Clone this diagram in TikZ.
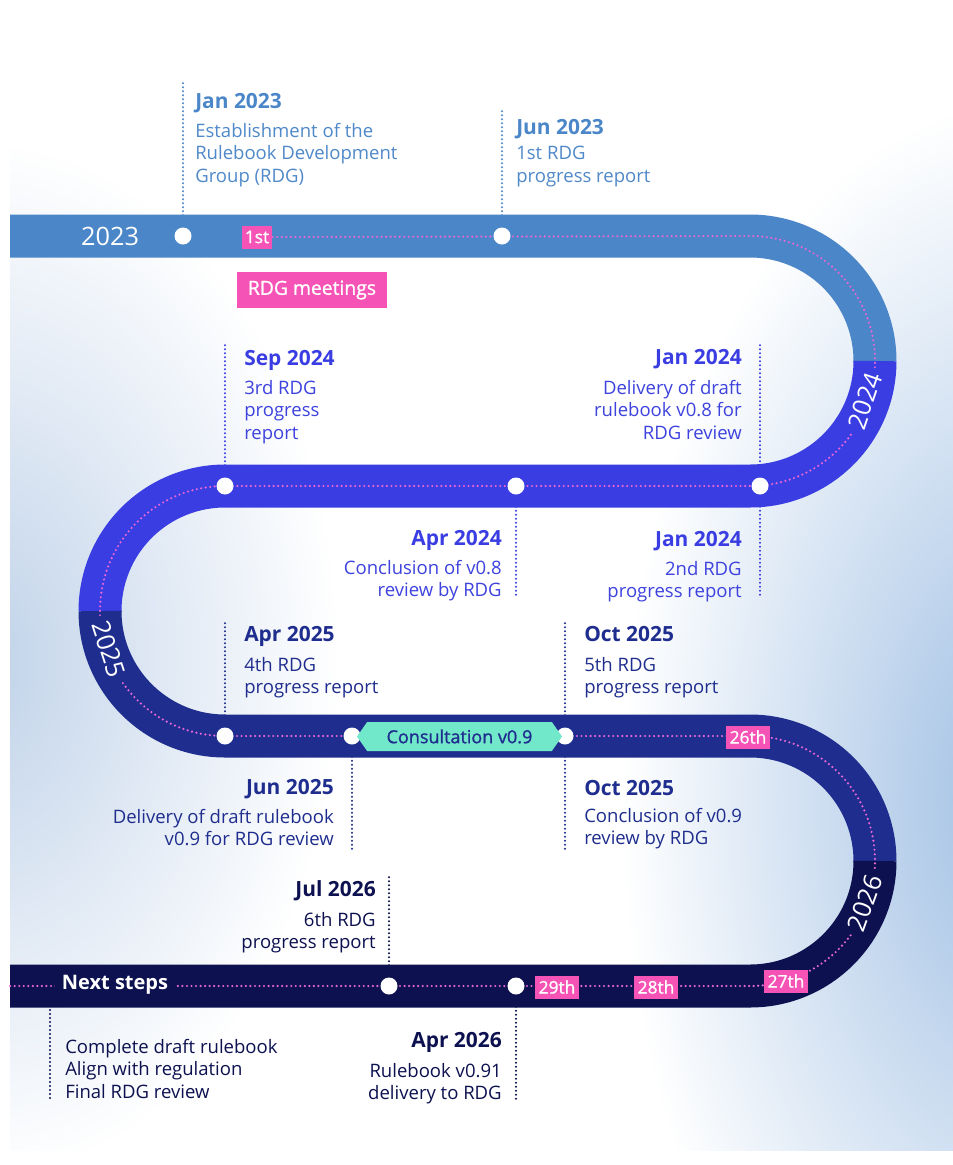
\documentclass[tikz,border=0pt]{standalone}
\usepackage{fontspec}
\setmainfont{Open Sans}
\newfontfamily\sbfont{Open Sans}[FakeBold=1.2]
\usetikzlibrary{shapes.symbols}
\definecolor{cA}{HTML}{4A86C8}
\definecolor{cAt}{HTML}{5089C9}
\definecolor{cB}{HTML}{3A3EE2}
\definecolor{cBt}{HTML}{3E43DE}
\definecolor{cC}{HTML}{1F2E8E}
\definecolor{cD}{HTML}{0D1150}
\definecolor{pinkbox}{HTML}{F553B5}
\definecolor{pinkdot}{HTML}{E866D6}
\definecolor{mint}{HTML}{72E8CA}
\definecolor{bgL}{HTML}{C0D2E9}
\definecolor{bgR}{HTML}{9EBEE3}
\pgfdeclarelayer{bg}\pgfdeclarelayer{vl}\pgfdeclarelayer{bands}
\pgfsetlayers{bg,vl,bands,main}
\tikzset{
  hd/.style={font=\fontsize{15.7}{18}\selectfont\bfseries, inner sep=0pt},
  bd/.style={font=\fontsize{13.9}{16.9}\selectfont, inner sep=0pt},
  band/.style={line width=32.25pt, line cap=butt},
  pinkline/.style={draw=pinkdot, line width=1.8pt, line cap=round, dash pattern=on 0pt off 3.4pt},
  vline/.style={line width=1.7pt, line cap=round, dash pattern=on 0pt off 3pt},
  dot/.style={circle, fill=white, minimum size=12.75pt, inner sep=0pt},
  pbox/.style={fill=pinkbox, text=white, font=\fontsize{13}{14}\sbfont, inner xsep=2.5pt, inner ysep=0pt, minimum height=17.25pt},
  yr/.style={text=white, font=\fontsize{19}{22}\selectfont, inner xsep=4pt, inner ysep=1pt},
  hexa/.style={signal, signal to=east and west, signal pointer angle=110, fill=mint, text=cC,
    font=\fontsize{13.5}{15}\sbfont, minimum height=21.75pt, minimum width=153.75pt, inner sep=0pt},
}
\begin{document}
\begin{tikzpicture}[x=0.75pt, y=-0.75pt]
\useasboundingbox (0,0) rectangle (953,1165);
% ---------- background ----------
\begin{pgfonlayer}{bg}
\fill[white] (0,0) rectangle (953,1165);
\begin{scope}
\clip (10,15) rectangle (953,1150);
\shade[inner color=bgL, outer color=white] (-20,660) ellipse (360 and 520);
\shade[inner color=bgR, outer color=white] (1020,800) ellipse (400 and 700);
\end{scope}
\end{pgfonlayer}

% ---------- dots ----------
\node[dot] (d1) at (183,236) {};
\node[dot] (d2) at (502,236) {};
\node[dot] (d3) at (760,486) {};
\node[dot] (d4) at (516,486) {};
\node[dot] (d5) at (225,486) {};
\node[dot] (d6) at (225,736) {};
\node[dot] (d7) at (352,736) {};
\node[dot] (d8) at (565,736) {};
\node[dot] (d9) at (389,986) {};
\node[dot] (d10) at (516,986) {};

% ---------- labels on the track ----------
\node[yr, inner sep=0pt] (y23) at (110,236) {2023};
\node[yr, fill=cB, rotate=71] (y24) at (865,401) {2024};
\node[yr, fill=cC, rotate=-72] (y25) at (109,649) {2025};
\node[yr, fill=cD, rotate=70] (y26) at (865,903) {2026};

\node[pbox] (one) at (257,237) {1st};
\node[pbox, minimum height=27pt, inner xsep=8pt, font=\fontsize{14.5}{16}\sbfont] (meet) at (312,290) {RDG meetings};
\node[pbox] (n26) at (748,737) {26th};
\node[pbox] (n27) at (786,981) {27th};
\node[pbox] (n28) at (656,987) {28th};
\node[pbox] (n29) at (557,987) {29th};
\node[hexa] (cons) at (459.5,736.5) {Consultation v0.9};
\node[fill=cD, text=white, font=\fontsize{15}{17}\selectfont\bfseries, inner xsep=5pt, inner ysep=4pt] (next) at (115,985) {Next steps};

% ---------- 2023 texts ----------
\node[hd, text=cA, anchor=base west] (h1) at (195,108.5) {Jan 2023};
\node[bd, text=cAt, anchor=north west, align=left] (b1) at (195,123) {Establishment of the\\Rulebook Development\\Group (RDG)};
\node[hd, text=cA, anchor=base west] (h2) at (516,134.5) {Jun 2023};
\node[bd, text=cAt, anchor=north west, align=left] (b2) at (516,146) {1st RDG\\progress report};
% ---------- 2024 texts ----------
\node[hd, text=cB, anchor=base west] (h3) at (244,365) {Sep 2024};
\node[bd, text=cBt, anchor=north west, align=left] (b3) at (244,380) {3rd RDG\\progress\\report};
\node[hd, text=cB, anchor=base east] (h4) at (742,364.5) {Jan 2024};
\node[bd, text=cBt, anchor=north east, align=right] (b4) at (742,380) {Delivery of draft\\rulebook v0.8 for\\RDG review};
\node[hd, text=cB, anchor=base east] (h5) at (502,545.5) {Apr 2024};
\node[bd, text=cBt, anchor=north east, align=right] (b5) at (502,560) {Conclusion of v0.8\\review by RDG};
\node[hd, text=cB, anchor=base east] (h6) at (742,546.5) {Jan 2024};
\node[bd, text=cBt, anchor=north east, align=right] (b6) at (742,561) {2nd RDG\\progress report};
% ---------- 2025 texts ----------
\node[hd, text=cC, anchor=base west] (h7) at (244,641.5) {Apr 2025};
\node[bd, text=cC, anchor=north west, align=left] (b7) at (244,657) {4th RDG\\progress report};
\node[hd, text=cC, anchor=base west] (h8) at (584,641.5) {Oct 2025};
\node[bd, text=cC, anchor=north west, align=left] (b8) at (584,657) {5th RDG\\progress report};
\node[hd, text=cC, anchor=base east] (h9) at (334,794.5) {Jun 2025};
\node[bd, text=cC, anchor=north east, align=right] (b9) at (334,809) {Delivery of draft rulebook\\v0.9 for RDG review};
\node[hd, text=cC, anchor=base west] (h10) at (584,795.5) {Oct 2025};
\node[bd, text=cC, anchor=north west, align=left] (b10) at (584,808) {Conclusion of v0.9\\review by RDG};
% ---------- 2026 texts ----------
\node[hd, text=cD, anchor=base east] (h11) at (376,896.5) {Jul 2026};
\node[bd, text=cD, anchor=north east, align=right] (b11) at (376,912) {6th RDG\\progress report};
\node[hd, text=cD, anchor=base east] (h12) at (502,1047.5) {Apr 2026};
\node[bd, text=cD, anchor=north east, align=right] (b12) at (502,1063) {Rulebook v0.91\\delivery to RDG};
\node[bd, text=cD, anchor=north west, align=left] (b13) at (65,1039) {Complete draft rulebook\\Align with regulation\\Final RDG review};

% ---------- vertical dotted connectors ----------
\coordinate (t1) at (183,83);
\coordinate (t2) at (502,110);
\coordinate (t3) at (225,342);
\coordinate (t4) at (760,342);
\coordinate (t5) at (516,598);
\coordinate (t6) at (760,598);
\coordinate (t7) at (225,622);
\coordinate (t8) at (565,622);
\coordinate (t9) at (352,850);
\coordinate (t10) at (565,850);
\coordinate (t11) at (389,875);
\coordinate (t12) at (516,1100);
\coordinate (s13) at (50,986);
\coordinate (t13) at (50,1100);
\begin{pgfonlayer}{vl}
\draw[vline, cA] (d1) -- (t1);
\draw[vline, cA] (d2) -- (t2);
\draw[vline, cB] (d5) -- (t3);
\draw[vline, cB] (d3) -- (t4);
\draw[vline, cB] (d4) -- (t5);
\draw[vline, cB] (d3) -- (t6);
\draw[vline, cC] (d6) -- (t7);
\draw[vline, cC] (d8) -- (t8);
\draw[vline, cC] (d7) -- (t9);
\draw[vline, cC] (d8) -- (t10);
\draw[vline, cD] (d9) -- (t11);
\draw[vline, cD] (d10) -- (t12);
\draw[vline, cD] (s13) -- (t13);
\end{pgfonlayer}

% ---------- the track ----------
\coordinate (a1) at (750,236);
\coordinate (a2) at (225,486);
\coordinate (a3) at (750,736);
\coordinate (a4) at (10,986);
\begin{pgfonlayer}{bands}
\draw[band, cA] (10,236) -- (a1) arc[start angle=-90, end angle=0.3, radius=125];
\draw[band, cB] (875,361) arc[start angle=0, end angle=90, radius=125] -- (a2) arc[start angle=270, end angle=179.7, radius=125];
\draw[band, cC] (100,611) arc[start angle=180, end angle=90, radius=125] -- (a3) arc[start angle=-90, end angle=0.3, radius=125];
\draw[band, cD] (875,861) arc[start angle=0, end angle=90, radius=125] -- (a4);
\draw[pinkline] (one.east) -- (a1) arc[start angle=-90, end angle=90, radius=125] -- (a2) arc[start angle=270, end angle=90, radius=125] -- (a3) arc[start angle=-90, end angle=90, radius=125] -- (a4);
\end{pgfonlayer}
\end{tikzpicture}
\end{document}
